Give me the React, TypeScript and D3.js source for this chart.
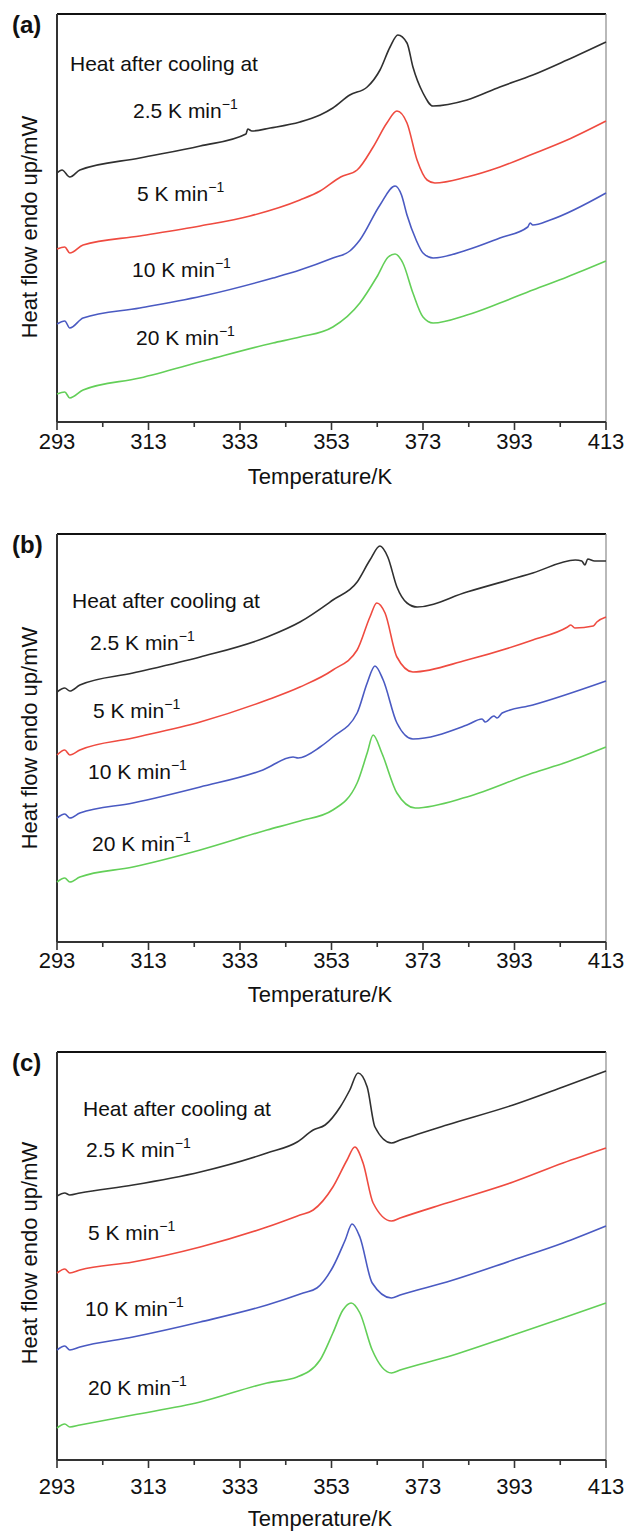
import React from 'react';
import * as d3 from 'd3';

// ---------- data ----------
const xTicks = [293, 313, 333, 353, 373, 393, 413];
const xMinorTicks = [303, 323, 343, 363, 383, 403];
const rateLabels = ['2.5', '5', '10', '20'];
const panelNames = ['(a)', '(b)', '(c)'];
const seriesColors = ['#303030', '#ef4b40', '#4a5ac2', '#63cf58'];

type Pt = [number, number];

// Panel (a): temperature / K, heat flow (offset, mW)
const aBlack: Pt[] = [[293.0,2.49],[294.1,2.52],[295.8,2.45],[298.0,2.52],[311.1,2.64],[324.3,2.76],[334.3,2.88],[334.7,2.93],[335.6,2.91],[339.6,2.94],[346.1,3.00],[350.5,3.07],[353.3,3.14],[357.0,3.27],[360.8,3.35],[363.6,3.52],[365.8,3.75],[367.5,3.87],[369.5,3.79],[370.8,3.55],[373.0,3.29],[375.2,3.16],[382.6,3.22],[389.8,3.35],[397.0,3.47],[404.5,3.62],[413.0,3.80]];
const aRed: Pt[] = [[293.0,1.73],[294.7,1.75],[295.8,1.69],[298.7,1.77],[311.1,1.86],[324.3,1.96],[335.2,2.06],[346.1,2.22],[350.5,2.31],[355.0,2.45],[358.6,2.52],[362.1,2.75],[365.1,2.99],[367.3,3.11],[369.5,2.99],[371.7,2.62],[373.9,2.42],[375.6,2.39],[382.6,2.45],[389.8,2.55],[397.0,2.68],[404.5,2.82],[413.0,3.01]];
const aBlue: Pt[] = [[293.0,0.98],[294.7,1.01],[295.8,0.94],[298.7,1.04],[311.1,1.14],[325.8,1.27],[340.2,1.44],[346.1,1.52],[353.3,1.64],[357.0,1.71],[359.2,1.82],[363.6,2.17],[366.9,2.36],[368.3,2.27],[369.5,2.07],[371.5,1.82],[373.0,1.69],[375.2,1.64],[382.6,1.72],[389.8,1.84],[395.9,1.95],[396.4,1.99],[397.0,1.97],[400.8,2.02],[413.0,2.29]];
const aGreen: Pt[] = [[293.0,0.28],[294.7,0.30],[295.8,0.24],[298.7,0.32],[311.1,0.44],[325.8,0.62],[340.2,0.79],[346.1,0.85],[353.3,0.95],[359.2,1.19],[362.9,1.45],[365.4,1.65],[366.9,1.68],[368.6,1.59],[370.8,1.29],[373.0,1.05],[375.2,0.99],[382.6,1.07],[389.8,1.19],[397.0,1.32],[404.5,1.45],[413.0,1.61]];

// Panel (b)
const bBlack: Pt[] = [[293.0,2.50],[294.7,2.54],[295.8,2.51],[298.0,2.57],[309.6,2.69],[324.3,2.85],[338.9,3.05],[346.1,3.20],[353.3,3.42],[358.6,3.60],[361.4,3.82],[363.6,3.96],[365.3,3.85],[367.3,3.55],[369.5,3.39],[371.7,3.35],[382.6,3.50],[397.0,3.69],[406.3,3.82],[407.7,3.81],[408.4,3.77],[409.0,3.83],[410.5,3.81],[413.0,3.81]];
const bRed: Pt[] = [[293.0,1.87],[294.7,1.92],[295.8,1.87],[298.0,1.92],[309.6,2.04],[324.3,2.20],[338.9,2.42],[346.1,2.55],[353.3,2.72],[358.6,2.92],[361.4,3.25],[362.9,3.39],[364.7,3.29],[367.3,2.85],[370.8,2.70],[382.6,2.82],[397.0,3.02],[404.6,3.15],[405.3,3.17],[406.2,3.14],[410.2,3.16],[411.0,3.20],[413.0,3.25]];
const bBlue: Pt[] = [[293.0,1.24],[294.7,1.28],[295.8,1.24],[298.0,1.29],[309.6,1.39],[324.3,1.55],[338.0,1.72],[344.6,1.85],[345.7,1.84],[350.5,1.95],[353.3,2.05],[358.6,2.29],[360.8,2.59],[362.5,2.76],[364.3,2.62],[367.3,2.19],[370.8,2.03],[382.6,2.17],[385.9,2.23],[386.6,2.20],[388.5,2.26],[389.2,2.24],[390.3,2.29],[397.0,2.37],[413.0,2.61]];
const bGreen: Pt[] = [[293.0,0.60],[294.7,0.64],[295.8,0.60],[298.0,0.65],[309.6,0.75],[324.3,0.92],[338.9,1.12],[346.1,1.21],[353.3,1.32],[358.6,1.59],[360.8,1.89],[362.1,2.07],[364.0,1.89],[367.3,1.49],[371.3,1.34],[382.6,1.45],[397.0,1.69],[404.5,1.80],[413.0,1.95]];

// Panel (c)
const cBlack: Pt[] = [[293.0,2.64],[294.7,2.67],[295.8,2.65],[298.0,2.67],[309.6,2.75],[324.3,2.88],[338.9,3.07],[345.5,3.18],[349.0,3.30],[351.6,3.35],[354.9,3.53],[357.0,3.70],[358.8,3.87],[360.8,3.73],[362.5,3.33],[366.1,3.17],[368.0,3.20],[378.2,3.35],[392.7,3.55],[403.6,3.73],[413.0,3.89]];
const cRed: Pt[] = [[293.0,1.87],[294.7,1.91],[295.8,1.87],[298.0,1.90],[309.6,1.98],[324.3,2.13],[338.9,2.33],[346.1,2.45],[349.0,2.50],[353.3,2.73],[356.4,3.00],[358.1,3.13],[359.9,2.97],[362.1,2.57],[366.1,2.39],[368.0,2.42],[378.2,2.57],[392.7,2.78],[403.6,2.97],[413.0,3.12]];
const cBlue: Pt[] = [[293.0,1.10],[294.7,1.14],[295.8,1.10],[298.0,1.13],[309.6,1.23],[324.3,1.38],[338.9,1.55],[346.8,1.67],[349.8,1.72],[353.3,1.93],[356.0,2.20],[357.5,2.36],[359.2,2.23],[361.9,1.77],[366.1,1.62],[368.0,1.65],[378.2,1.78],[392.7,2.00],[403.6,2.17],[413.0,2.34]];
const cGreen: Pt[] = [[293.0,0.32],[294.7,0.36],[295.8,0.33],[298.0,0.35],[309.6,0.45],[324.3,0.58],[338.9,0.77],[345.5,0.83],[350.5,1.00],[353.3,1.27],[355.5,1.50],[357.3,1.57],[359.2,1.47],[361.9,1.10],[366.1,0.87],[368.0,0.90],[378.2,1.03],[392.7,1.25],[403.6,1.42],[413.0,1.57]];

const panelSeries: Pt[][][] = [
  [aBlack, aRed, aBlue, aGreen],
  [bBlack, bRed, bBlue, bGreen],
  [cBlack, cRed, cBlue, cGreen],
];

// ---------- layout ----------
const W = 626;
const H = 1532;
const plotLeft = 57;
const plotRight = 606;
const plotH = 408;
const titleX = 320;
const FONT = '"Liberation Sans", Arial, Helvetica, sans-serif';

const layouts = [
  { bottom: 422, tickLabelY: 449, titleY: 484, yLabelY: 227,
    heat: [70, 71], rates: [[133, 118], [137, 201], [132, 277], [136, 345]] },
  { bottom: 942, tickLabelY: 968, titleY: 1002, yLabelY: 738,
    heat: [72, 608], rates: [[90, 650], [93, 718], [88, 779], [92, 851]] },
  { bottom: 1460, tickLabelY: 1494, titleY: 1526, yLabelY: 1253,
    heat: [83, 1116], rates: [[86, 1157], [88, 1240], [85, 1316], [88, 1395]] },
];

function Panel({ idx }: { idx: number }) {
  const L = layouts[idx];
  const top = L.bottom - plotH;
  const x = d3.scaleLinear().domain([293, 413]).range([plotLeft, plotRight]);
  const y = d3.scaleLinear().domain([0, 4.08]).range([L.bottom, top]);
  const line = d3.line<Pt>().x(d => x(d[0])).y(d => y(d[1])).curve(d3.curveMonotoneX);
  const series = panelSeries[idx];
  return (
    <g>
      <line x1={plotLeft} x2={plotRight} y1={top} y2={top} stroke="#111" strokeWidth={2} />
      <line x1={plotRight} x2={plotRight} y1={top} y2={L.bottom} stroke="#8a8a8a" strokeWidth={1.2} />
      <line x1={plotLeft} x2={plotLeft} y1={top} y2={L.bottom} stroke="#333" strokeWidth={2} />
      {series.map((s, i) => (
        <path key={i} d={line(s) || ''} fill="none" stroke={seriesColors[i]} strokeWidth={1.6} strokeLinejoin="round" />
      ))}
      <line x1={plotLeft} x2={plotRight} y1={L.bottom} y2={L.bottom} stroke="#333" strokeWidth={2} />
      {xTicks.map(t => (
        <line key={'M' + t} x1={x(t)} x2={x(t)} y1={L.bottom} y2={L.bottom + 8} stroke="#333" strokeWidth={1.6} />
      ))}
      {xMinorTicks.map(t => (
        <line key={'m' + t} x1={x(t)} x2={x(t)} y1={L.bottom} y2={L.bottom + 5} stroke="#333" strokeWidth={1.6} />
      ))}
      {xTicks.map(t => (
        <text key={'l' + t} x={x(t)} y={L.tickLabelY} textAnchor="middle" fontSize={22} fill="#111" fontFamily={FONT}>{t}</text>
      ))}
      <text x={titleX} y={L.titleY} textAnchor="middle" fontSize={22} fill="#111" fontFamily={FONT}>Temperature/K</text>
      <text transform={`translate(37,${L.yLabelY}) rotate(-90)`} textAnchor="middle" fontSize={22} fill="#111" fontFamily={FONT}>Heat flow endo up/mW</text>
      <text x={12} y={top + 19} fontSize={24} fontWeight="bold" fill="#111" fontFamily={FONT}>{panelNames[idx]}</text>
      <text x={L.heat[0]} y={L.heat[1]} fontSize={21} fill="#111" fontFamily={FONT}>Heat after cooling at</text>
      {rateLabels.map((r, i) => (
        <text key={r} x={L.rates[i][0]} y={L.rates[i][1]} fontSize={21} fill="#111" fontFamily={FONT}>
          {r} K min<tspan fontSize={14} dy={-9}>−1</tspan>
        </text>
      ))}
    </g>
  );
}

export default function App() {
  return (
    <svg width={W} height={H} viewBox={`0 0 ${W} ${H}`} style={{ position: 'absolute', left: 0, top: 0, background: '#fff' }}>
      <rect x={0} y={0} width={W} height={H} fill="#fff" />
      {[0, 1, 2].map(i => <Panel key={i} idx={i} />)}
    </svg>
  );
}
